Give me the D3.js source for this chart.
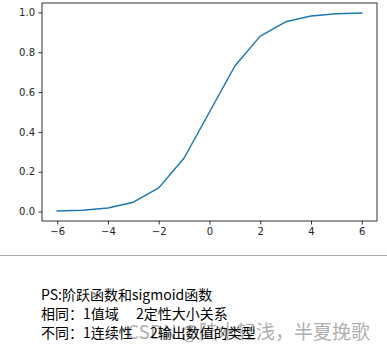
<!DOCTYPE html>
<html>
<head>
<meta charset="utf-8">
<script src="https://cdn.jsdelivr.net/npm/d3@7"></script>
<style>
html,body{margin:0;padding:0;background:#fff;}
svg{display:block;}
</style>
</head>
<body>
<script>
const xValues = [-6, -5, -4, -3, -2, -1, 0, 1, 2, 3, 4, 5, 6];
const yValues = [0.0025, 0.0067, 0.018, 0.047, 0.119, 0.269, 0.5, 0.731, 0.881, 0.953, 0.982, 0.993, 0.9975];
const xTicks = [-6, -4, -2, 0, 2, 4, 6];
const yTicks = [0.0, 0.2, 0.4, 0.6, 0.8, 1.0];
const noteLines = ["PS:阶跃函数和sigmoid函数", "相同：1值域\u3000 2定性大小关系", "不同：1连续性\u3000 2输出数值的类型"];
const watermark = "CSDN @陆水轻浅，半夏挽歌";

const W = 387, H = 351;
const m = {left: 42, top: 3, right: 377, bottom: 221};

const svg = d3.select("body").append("svg").attr("width", W).attr("height", H);

const x = d3.scaleLinear().domain([-6.6, 6.6]).range([m.left, m.right]);
const y = d3.scaleLinear().domain([-0.0473, 1.0473]).range([m.bottom, m.top]);

const xAxis = svg.append("g").attr("transform", `translate(0,${m.bottom})`)
  .call(d3.axisBottom(x).tickValues(xTicks).tickSizeOuter(0).tickSize(3.5).tickPadding(3.5));
const yAxis = svg.append("g").attr("transform", `translate(${m.left},0)`)
  .call(d3.axisLeft(y).tickValues(yTicks).tickFormat(d3.format(".1f")).tickSizeOuter(0).tickSize(3.5).tickPadding(3.5));
[xAxis, yAxis].forEach(g => {
  g.select(".domain").remove();
  g.selectAll("line").attr("stroke", "#000").attr("stroke-width", 0.8);
  g.selectAll("text").attr("fill", "#262626").style("font-family", "DejaVu Sans").style("font-size", "10px");
});

// frame
svg.append("rect").attr("x", m.left).attr("y", m.top)
  .attr("width", m.right - m.left).attr("height", m.bottom - m.top)
  .attr("fill", "none").attr("stroke", "#000").attr("stroke-width", 0.8);

const line = d3.line().x((d, i) => x(xValues[i])).y(d => y(d));
svg.append("path").datum(yValues).attr("d", line)
  .attr("fill", "none").attr("stroke", "#1f77b4").attr("stroke-width", 1.5)
  .attr("stroke-linejoin", "round").attr("stroke-linecap", "square");

// separator
svg.append("line").attr("x1", 0).attr("x2", W).attr("y1", 255.5).attr("y2", 255.5)
  .attr("stroke", "#a8a8a8").attr("stroke-width", 1);

// watermark
svg.append("text").attr("x", 370).attr("y", 339).attr("text-anchor", "end")
  .style("font-family", "Noto Sans CJK SC").style("font-size", "19px")
  .attr("fill", "#a0a0a0").attr("fill-opacity", 0.85).text(watermark);

// notes
const baselines = [300, 319, 338];
svg.selectAll("text.note").data(noteLines).enter().append("text")
  .attr("class", "note").attr("x", 41).attr("y", (d, i) => baselines[i])
  .style("font-family", "Noto Sans CJK SC").style("font-size", "14px")
  .attr("fill", "#000").text(d => d);
</script>
</body>
</html>
